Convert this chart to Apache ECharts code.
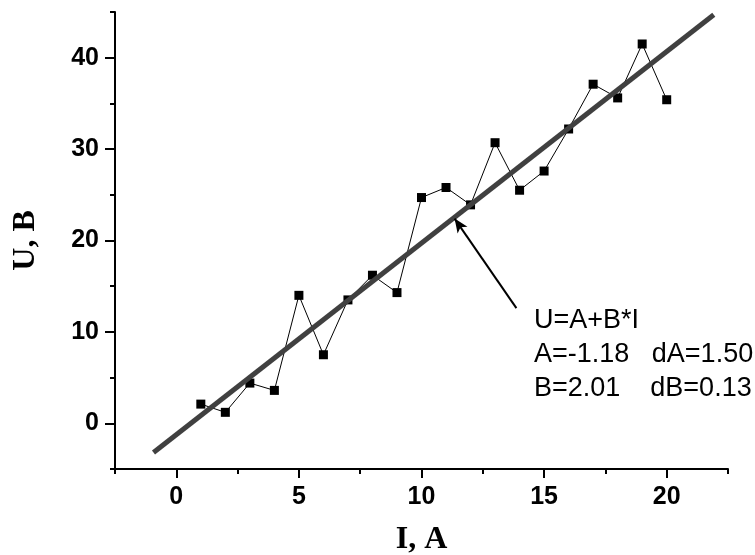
<!DOCTYPE html>
<html>
<head>
<meta charset="utf-8">
<script src="https://cdn.jsdelivr.net/npm/echarts@6/dist/echarts.min.js"></script>
<style>html,body{margin:0;padding:0;background:#fff;}#c{width:755px;height:555px;}</style>
</head>
<body>
<div id="c"></div>
<script>
// Measured data
var currentI = [1,2,3,4,5,6,7,8,9,10,11,12,13,14,15,16,17,18,19,20];
var voltageU = [2.1,1.2,4.4,3.6,14.0,7.5,13.5,16.2,14.3,24.7,25.8,23.9,30.7,25.5,27.6,32.2,37.1,35.6,41.5,35.4];
// Drawn fit line endpoints [I, U]
var fitLine = [[-0.93,-3.2],[21.92,44.7]];
// Arrow from annotation to fit line [I, U]
var arrowTail = [13.87, 12.6];
var arrowTip = [11.35, 22.4];
// Annotation text lines
var fitText = ['U=A+B*I', 'A=-1.18   dA=1.50', 'B=2.01    dB=0.13'];
// Axis tick labels
var xTickLabels = [0,5,10,15,20];
var yTickLabels = [0,10,20,30,40];

var chart = echarts.init(document.getElementById('c'), null, {renderer:'canvas'});
var labelFont = {fontFamily:'Liberation Sans, Arial', fontWeight:'bold', fontSize:25, color:'#000'};
var nameFont = {fontFamily:'Liberation Serif, Times New Roman', fontWeight:'bold', fontSize:32, color:'#000'};
var blk = {color:'#000', width:2};

var option = {
  animation:false,
  backgroundColor:'#fff',
  grid:{left:115, right:27, top:12, bottom:86, containLabel:false, outerBoundsMode:'none'},
  xAxis:{type:'value', min:-2.5, max:22.5, interval:5, position:'bottom',
     axisLine:{show:true, onZero:false, lineStyle:blk}, splitLine:{show:false},
     // short ticks at -2.5, 2.5, ...; longer (minor-tick) marks at 0, 5, 10 ...
     axisTick:{show:true, length:5, lineStyle:blk},
     minorTick:{show:true, splitNumber:2, length:9, lineStyle:blk},
     minorSplitLine:{show:false},
     axisLabel:Object.assign({customValues:xTickLabels, margin:16}, labelFont),
     name:'I, A', nameLocation:'middle', nameGap:55, nameTextStyle:nameFont},
  yAxis:{type:'value', min:-5, max:45, interval:10, position:'left',
     axisLine:{show:true, onZero:false, lineStyle:blk}, splitLine:{show:false},
     axisTick:{show:true, length:5, lineStyle:blk},
     minorTick:{show:true, splitNumber:2, length:10, lineStyle:blk},
     minorSplitLine:{show:false},
     axisLabel:Object.assign({customValues:yTickLabels, margin:16}, labelFont),
     name:'U, B', nameLocation:'middle', nameGap:73, nameRotate:90, nameTextStyle:nameFont},
  series:[
    {type:'line', data:currentI.map(function(x,i){return [x, voltageU[i]];}),
     symbol:'rect', symbolSize:9, itemStyle:{color:'#000'},
     lineStyle:{color:'#000', width:1}, z:3,
     markLine:{silent:true, symbol:['none','arrow'], symbolSize:[9,14],
       lineStyle:{color:'#000', width:2, type:'solid'}, label:{show:false},
       data:[[{coord:arrowTail},{coord:arrowTip}]]}},
    {type:'line', data:fitLine, symbol:'none',
     lineStyle:{color:'#404040', width:5}, z:4}
  ],
  graphic:[
    {type:'text', left:534, top:304,
     style:{text:fitText.join('\n'), fontFamily:'Liberation Sans, Arial', fontSize:27, lineHeight:34, fill:'#000'}}
  ]
};
chart.setOption(option);
</script>
</body>
</html>
